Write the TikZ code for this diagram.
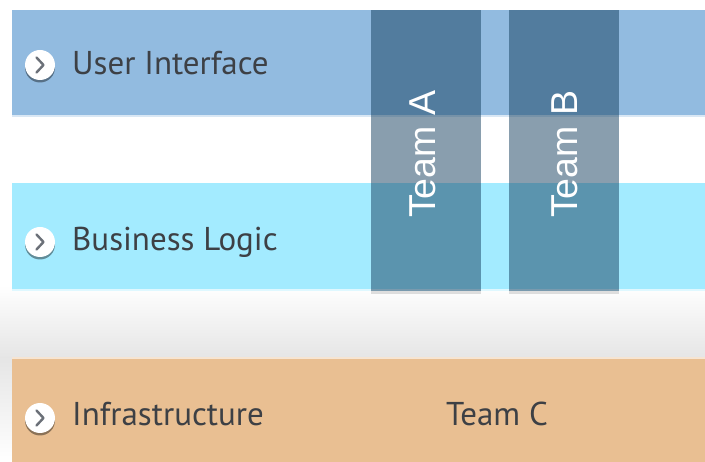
\documentclass[tikz,border=0pt]{standalone}
\usepackage{fontspec}
\setmainfont{PT Sans}
\newfontfamily\teamfont{Liberation Sans}
\usetikzlibrary{shadows}
\definecolor{uiblue}{HTML}{92BBE0}
\definecolor{bizcyan}{HTML}{A3EBFF}
\definecolor{infra}{HTML}{E9BF92}
\definecolor{teamcol}{HTML}{143E5E}
\definecolor{labeltxt}{HTML}{3D4045}
\definecolor{chevcol}{HTML}{6B7078}
\tikzset{
  x=1pt,y=-1pt,
  band/.style={anchor=north west,minimum width=693pt,inner sep=0pt,outer sep=0pt,
    drop shadow={shadow xshift=0pt,shadow yshift=-1.5pt,opacity=.14,fill=black}},
  teambar/.style={anchor=north west,minimum width=110pt,minimum height=281pt,inner sep=0pt,
    fill=teamcol,fill opacity=.5,text opacity=1},
  teamtext/.style={text=white,font=\teamfont\fontsize{37.5}{37.5}\selectfont,rotate=90,inner sep=0pt,anchor=base west},
  lbl/.style={anchor=base west,inner sep=0pt,text=labeltxt,font=\fontsize{33}{33}\selectfont},
  bullet/.style={circle,fill=white,minimum size=30pt,inner sep=0pt,
    drop shadow={shadow xshift=0pt,shadow yshift=-2.5pt,opacity=.4,fill=black}},
  chev/.style={draw=chevcol,line width=2.4pt,line cap=round,line join=round},
  edge/.style={line width=1.2pt}
}
\begin{document}
\begin{tikzpicture}
\useasboundingbox (0,0) rectangle (705,462);
\fill[white] (0,0) rectangle (705,462);
\shade[top color=white,bottom color=black!10,shading angle=0] (0,285) rectangle (705,358);
\shade[top color=black!10,bottom color=white,shading angle=0] (0,358) rectangle (12,462);
\node[band,fill=uiblue,minimum height=106pt] (ui) at (12,10) {};
\node[band,fill=bizcyan,minimum height=107pt] (biz) at (12,183) {};
\node[band,fill=infra,minimum height=104pt] (inf) at (12,358) {};
\draw[edge,draw=uiblue!35!white] (ui.south west) -- (ui.south east);
\draw[edge,draw=bizcyan!35!white] (biz.south west) -- (biz.south east);
\draw[edge,draw=infra!40!white] (inf.north west) -- (inf.north east);
\node[teambar] (ta) at (371,10) {};
\node[teambar] (tb) at (509,10) {};
\fill[black,opacity=.12] (ta.south west) rectangle ([yshift=-3pt]ta.south east);
\fill[black,opacity=.12] (tb.south west) rectangle ([yshift=-3pt]tb.south east);
\node[teamtext] (tat) at (435,218) {Team A};
\node[teamtext] (tbt) at (577,218) {Team B};
\node[bullet] (b1) at (40,65) {};
\node[bullet] (b2) at (40,242) {};
\node[bullet] (b3) at (40,418) {};
\foreach \n in {b1,b2,b3}{
  \draw[chev] ([shift={(-3.5,-7.5)}]\n.center) -- ([shift={(3.5,0)}]\n.center) -- ([shift={(-3.5,7.5)}]\n.center);
}
\node[lbl] (l1) at (72,75) {User Interface};
\node[lbl] (l2) at (72,251) {Business Logic};
\node[lbl] (l3) at (72,426) {Infrastructure};
\node[lbl] (l4) at (446,426) {Team C};
\end{tikzpicture}
\end{document}
